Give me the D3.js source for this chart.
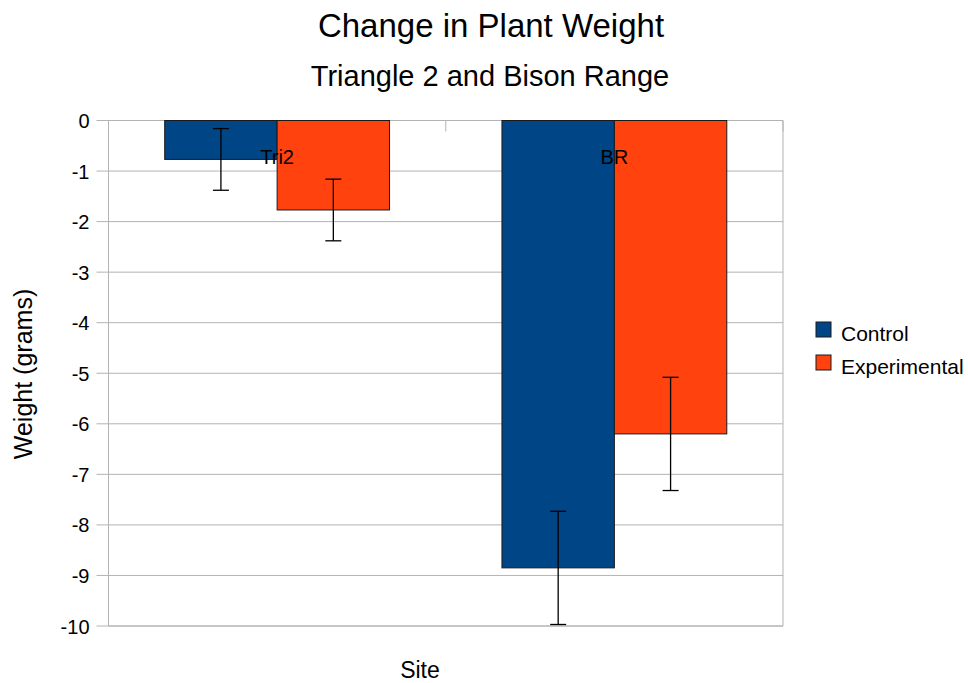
<!DOCTYPE html>
<html><head><meta charset="utf-8">
<script src="https://cdn.jsdelivr.net/npm/d3@7"></script>
<style>body{margin:0;background:#fff}svg{display:block;font-family:"Liberation Sans",Arial,sans-serif}</style>
</head><body>
<script>
const categories = ["Tri2", "BR"];
const seriesNames = ["Control", "Experimental"];
const controlValues = [-0.77, -8.85];
const experimentalValues = [-1.77, -6.2];
const controlErrors = [0.61, 1.12];
const experimentalErrors = [0.61, 1.12];
const yTicks = [0, -1, -2, -3, -4, -5, -6, -7, -8, -9, -10];
const colors = ["#004586", "#ff420e"];

const W = 968, H = 683;
const svg = d3.select("body").append("svg").attr("width", W).attr("height", H);
const L = 108.5, R = 783, T = 120.5, B = 626;

const x = d3.scaleBand().domain(categories).range([L, R]).paddingInner(0).paddingOuter(0);
const inner = d3.scaleBand().domain(seriesNames).range([0, x.bandwidth()]).paddingOuter(0.5).paddingInner(0);
const y = d3.scaleLinear().domain([0, -10]).range([T, B]);

// gridlines
svg.append("g").selectAll("line").data(yTicks).join("line")
  .attr("x1", L - 12).attr("x2", R).attr("y1", d => y(d)).attr("y2", d => y(d))
  .attr("stroke", "#b3b3b3").attr("stroke-width", 1);

// y axis labels
const yAxis = d3.axisLeft(y).tickValues(yTicks).tickSize(0).tickPadding(0).tickFormat(d => String(d));
const ga = svg.append("g").attr("transform", `translate(${L - 19},0)`).call(yAxis);
ga.select(".domain").remove();
ga.selectAll("text").attr("font-size", 20).attr("fill", "#000").attr("font-family", "Liberation Sans, Arial, sans-serif").attr("dy", "0.35em");

// plot frame
svg.append("line").attr("x1", L).attr("x2", L).attr("y1", T).attr("y2", B).attr("stroke", "#b3b3b3");
svg.append("line").attr("x1", R).attr("x2", R).attr("y1", T).attr("y2", B).attr("stroke", "#b3b3b3");
svg.append("line").attr("x1", L).attr("x2", R).attr("y1", B).attr("y2", B).attr("stroke", "#b3b3b3");
// category ticks at top axis
const bounds = [L, L + x.bandwidth(), R];
svg.append("g").selectAll("line").data(bounds).join("line")
  .attr("x1", d => d).attr("x2", d => d).attr("y1", T).attr("y2", T + 11)
  .attr("stroke", "#b3b3b3");

const valuesBySeries = [controlValues, experimentalValues];
const errorsBySeries = [controlErrors, experimentalErrors];

seriesNames.forEach((s, si) => {
  const g = svg.append("g");
  g.selectAll("rect").data(categories).join("rect")
    .attr("x", c => x(c) + inner(s))
    .attr("width", inner.bandwidth())
    .attr("y", (c, i) => y(Math.max(0, valuesBySeries[si][i])))
    .attr("height", (c, i) => Math.abs(y(valuesBySeries[si][i]) - y(0)))
    .attr("fill", colors[si]).attr("stroke", "#1a1a1a").attr("stroke-width", 1);
});

// category labels (drawn at the zero axis, inside plot)
svg.append("g").selectAll("text").data(categories).join("text")
  .attr("x", c => x(c) + x.bandwidth() / 2).attr("y", 164)
  .attr("text-anchor", "middle").attr("font-size", 20).attr("fill", "#000").text(c => c);

// error bars
seriesNames.forEach((s, si) => {
  const g = svg.append("g").attr("stroke", "#000").attr("stroke-width", 1.3);
  categories.forEach((c, i) => {
    const cx = x(c) + inner(s) + inner.bandwidth() / 2;
    const v = valuesBySeries[si][i], e = errorsBySeries[si][i];
    g.append("line").attr("x1", cx).attr("x2", cx).attr("y1", y(v + e)).attr("y2", y(v - e));
    [v + e, v - e].forEach(t => g.append("line").attr("x1", cx - 8).attr("x2", cx + 8).attr("y1", y(t)).attr("y2", y(t)));
  });
});

// titles
svg.append("text").attr("x", 491).attr("y", 37).attr("text-anchor", "middle").attr("font-size", 33).text("Change in Plant Weight");
svg.append("text").attr("x", 490).attr("y", 86).attr("text-anchor", "middle").attr("font-size", 29).text("Triangle 2 and Bison Range");
svg.append("text").attr("x", 420).attr("y", 678).attr("text-anchor", "middle").attr("font-size", 23).text("Site");
svg.append("text").attr("transform", `translate(32,374) rotate(-90)`).attr("text-anchor", "middle").attr("font-size", 25).text("Weight (grams)");

// legend
const lg = svg.append("g").attr("transform", "translate(816,322)");
seriesNames.forEach((s, i) => {
  lg.append("rect").attr("x", 0).attr("y", i * 33).attr("width", 15).attr("height", 15)
    .attr("fill", colors[i]).attr("stroke", "#1a1a1a").attr("stroke-width", 1);
  lg.append("text").attr("x", 25).attr("y", i * 33 + 19).attr("font-size", 21).text(s);
});
</script>
</body></html>
